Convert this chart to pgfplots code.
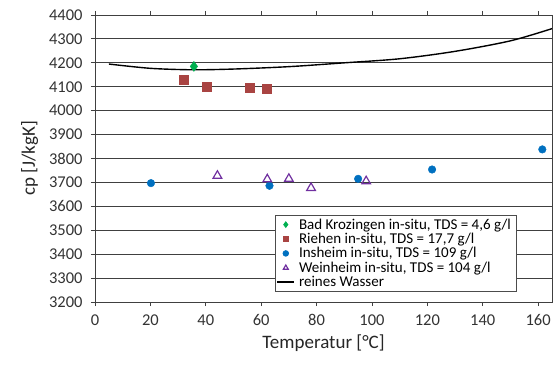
\documentclass[border=0pt]{standalone}
\usepackage{pgfplots}
\pgfplotsset{compat=1.18}
\usepackage{fontspec}
\setmainfont{Carlito}
\definecolor{cgreen}{HTML}{00B050}
\definecolor{cred}{HTML}{A94442}
\definecolor{cblue}{HTML}{0070C0}
\definecolor{cpurple}{HTML}{7030A0}
\begin{document}
\begin{tikzpicture}
\begin{axis}[
  name=ax,
  scale only axis,
  width=457bp, height=287bp,
  xmin=0, xmax=165, ymin=3200, ymax=4400,
  xtick={0,20,...,160},
  ytick={3200,3300,...,4400},
  ymajorgrids,
  grid style={black!75, line width=0.9pt},
  axis line style={black!75, line width=0.9pt},
  tick style={black!75, line width=0.9pt},
  tick align=outside,
  major tick length=4bp,
  /pgf/number format/assume math mode=true,
  /pgf/number format/1000 sep={},
  ticklabel style={font=\fontsize{16.5bp}{18bp}\selectfont, text=black!80},
  xticklabel style={yshift=-5bp},
  yticklabel style={xshift=-5bp},
  label style={font=\fontsize{19bp}{21bp}\selectfont, text=black!85},
  xlabel={Temperatur [°C]},
  ylabel={cp [J/kgK]},
  xlabel style={yshift=-2bp},
  ylabel style={yshift=4bp},
  legend style={at={(0.923,0.035)}, anchor=south east,
    font=\fontsize{15bp}{17bp}\selectfont, draw=black!70, line width=0.8pt,
    row sep=-1.5bp, inner sep=1.5bp, cells={anchor=west},
    nodes={inner xsep=4bp}},
  legend image post style={mark size=2.8bp},
  legend cell align=left,
]
\addplot[only marks, mark=diamond*, mark size=5bp, color=cgreen] coordinates {(35.7,4185)};
\addlegendentry{Bad Krozingen in-situ, TDS = 4,6 g/l}
\addplot[only marks, mark=square*, mark size=4.5bp, color=cred] coordinates {
(32.2,4130) (40.5,4101) (55.9,4097) (62,4091)};
\addlegendentry{Riehen in-situ, TDS = 17,7 g/l}
\addplot[only marks, mark=*, mark size=3.8bp, color=cblue] coordinates {
(20.2,3697) (63,3686) (95,3715) (121.7,3754) (161.5,3838)};
\addlegendentry{Insheim in-situ, TDS = 109 g/l}
\addplot[only marks, mark=triangle, mark size=5bp, color=cpurple, mark options={line width=1.2pt}] coordinates {
(44.2,3728) (62.2,3713) (70,3715) (78,3677) (97.9,3705)};
\addlegendentry{Weinheim in-situ, TDS = 104 g/l}
\addplot[black, line width=1.4pt, smooth, no marks] coordinates {
(5,4195) (20,4177) (35,4171) (50,4174) (70,4184) (90,4200) (110,4217) (130,4248) (150,4292) (165,4343)};
\addlegendentry{reines Wasser}
\end{axis}
\pgfresetboundingbox
\path[use as bounding box] ([xshift=-95bp,yshift=-63bp]ax.south west) rectangle ([xshift=1bp,yshift=15bp]ax.north east);
\end{tikzpicture}
\end{document}
